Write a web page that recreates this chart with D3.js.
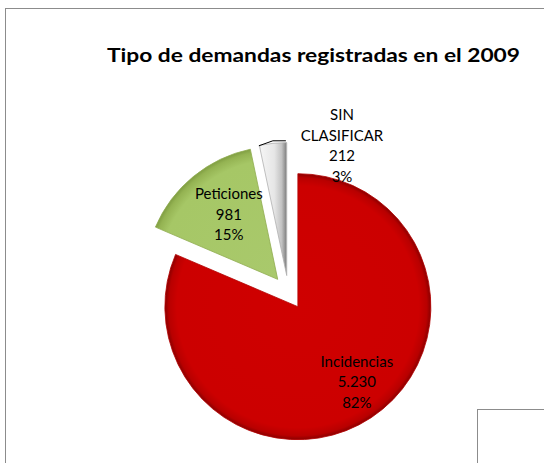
<!DOCTYPE html>
<html>
<head>
<meta charset="utf-8">
<script src="https://cdn.jsdelivr.net/npm/d3@7"></script>
<style>
  html, body { margin: 0; padding: 0; background: #fff; }
  svg { display: block; }
</style>
</head>
<body>
<svg id="chart" width="544" height="463"></svg>
<script>
// data
const categories = ["Incidencias", "Peticiones", "SIN CLASIFICAR"];
const values = [5230, 981, 212];
const valueLabels = ["5.230", "981", "212"];
const pctLabels = ["82%", "15%", "3%"];
const labelLines = [["Incidencias"], ["Peticiones"], ["SIN", "CLASIFICAR"]];

const svg = d3.select("#chart");

// chart area frame (cut off by the window at right / bottom)
svg.append("rect")
  .attr("x", 5.5).attr("y", 8.5)
  .attr("width", 600).attr("height", 500)
  .attr("fill", "#fff")
  .attr("stroke", "#8c8c8c").attr("stroke-width", 1);

// small box lower right
svg.append("rect")
  .attr("x", 477.5).attr("y", 409.5)
  .attr("width", 100).attr("height", 100)
  .attr("fill", "#fff")
  .attr("stroke", "#8c8c8c").attr("stroke-width", 1);

// title
svg.append("text")
  .attr("x", 107).attr("y", 62)
  .attr("font-family", "Lato, 'Open Sans', sans-serif")
  .attr("font-weight", "bold")
  .attr("font-size", 19.5)
  .attr("textLength", 413)
  .attr("lengthAdjust", "spacingAndGlyphs")
  .attr("fill", "#000")
  .text("Tipo de demandas registradas en el 2009");

const cx = 288.5, cy = 292.5;
const R = 133;
const explode = 17;

const pie = d3.pie().sort(null).startAngle(0).endAngle(2 * Math.PI);
const arcs = pie(values);
const arc = d3.arc().innerRadius(0).outerRadius(R);

const defs = svg.append("defs");

function offsetOf(d) {
  const a = (d.startAngle + d.endAngle) / 2;
  return [explode * Math.sin(a), -explode * Math.cos(a)];
}

// gradients live in each slice's own (translated) space, so centre at 0,0
function radial(id, stops) {
  const g = defs.append("radialGradient")
    .attr("id", id)
    .attr("gradientUnits", "userSpaceOnUse")
    .attr("cx", 0).attr("cy", 0).attr("r", R);
  stops.forEach(s => g.append("stop").attr("offset", s[0]).attr("stop-color", s[1]));
}

const offs = arcs.map(offsetOf);
const vx = offs.map(o => cx + o[0]);
const vy = offs.map(o => cy + o[1]);

radial("gRed", [["0%", "#cf0000"], ["91%", "#cc0000"], ["97%", "#b80000"], ["100%", "#8a0000"]]);
radial("gGreen", [["0%", "#a9c96c"], ["90%", "#a6c766"], ["97%", "#94b352"], ["100%", "#7f9d42"]]);

const gGray = defs.append("linearGradient")
  .attr("id", "gGray")
  .attr("gradientUnits", "userSpaceOnUse")
  .attr("x1", -30).attr("y1", 0)
  .attr("x2", 2).attr("y2", 0);
[["0%", "#cfcfcf"], ["15%", "#f4f4f4"], ["55%", "#e6e6e6"], ["78%", "#c2c2c2"], ["90%", "#8c8c8c"], ["100%", "#c8c8c8"]]
  .forEach(s => gGray.append("stop").attr("offset", s[0]).attr("stop-color", s[1]));

const fills = ["url(#gRed)", "url(#gGreen)", "url(#gGray)"];
const strokes = ["#b30000", "#8fac4f", "#b0b0b0"];

const slices = svg.append("g");
slices.selectAll("path")
  .data(arcs)
  .enter()
  .append("path")
  .attr("transform", (d, i) => `translate(${vx[i]},${vy[i]})`)
  .attr("d", arc)
  .attr("fill", (d, i) => fills[i])
  .attr("stroke", (d, i) => strokes[i])
  .attr("stroke-width", 0.8);

// labels
const font = "Lato, 'Open Sans', sans-serif";
const fs = 15;
const lineGap = 20.5;

function drawLabel(x, yTop, lines) {
  const t = svg.append("text")
    .attr("font-family", font)
    .attr("font-size", fs)
    .attr("fill", "#000")
    .attr("text-anchor", "middle");
  lines.forEach((s, k) => {
    t.append("tspan").attr("x", x).attr("y", yTop + 5 + k * lineGap).text(s);
  });
}

// inside labels placed along each slice's bisector
const labelRadius = [0.72, 0.61];
const labelTurn = [-0.08, 0.04];
[0, 1].forEach(i => {
  const d = arcs[i];
  const a = (d.startAngle + d.endAngle) / 2 + labelTurn[i];
  const r = R * labelRadius[i];
  const x = vx[i] + r * Math.sin(a);
  const y = vy[i] - r * Math.cos(a);
  const lines = labelLines[i].concat([valueLabels[i], pctLabels[i]]);
  drawLabel(x, y - lineGap * (lines.length - 1) / 2, lines);
});

// outside label for the small slice, with leader line
{
  const i = 2;
  const d = arcs[i];
  const a = (d.startAngle + d.endAngle) / 2;
  const px = vx[i] + (R + 1) * Math.sin(a - 0.03);
  const py = vy[i] - (R + 1) * Math.cos(a - 0.03);
  svg.append("polyline")
    .attr("points", `${px - 10},${py + 3} ${px + 4},${py - 2} ${px + 17},${py - 2}`)
    .attr("fill", "none")
    .attr("stroke", "#000")
    .attr("stroke-width", 1);
  const lines = ["SIN", "CLASIFICAR", valueLabels[i], pctLabels[i]];
  drawLabel(342, 115, lines);
}
</script>
</body>
</html>
